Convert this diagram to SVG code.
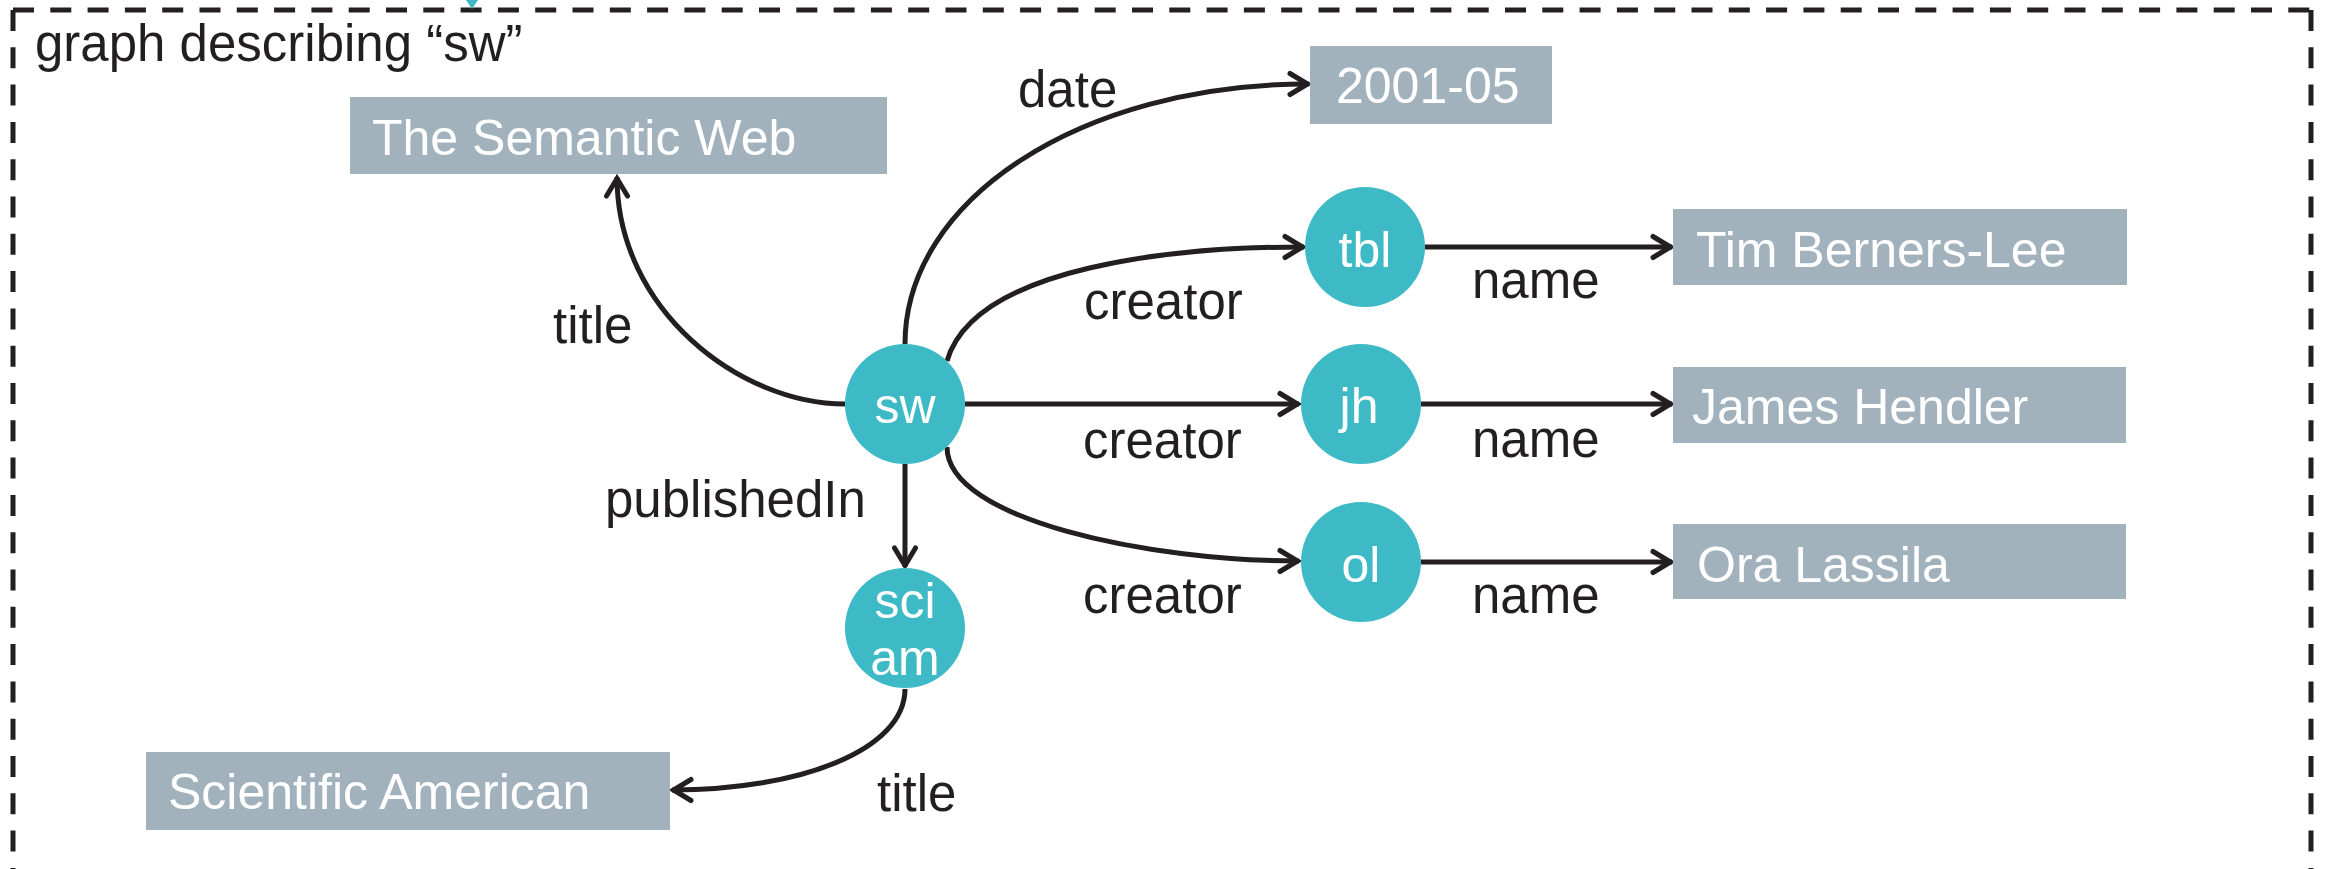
<svg xmlns="http://www.w3.org/2000/svg" width="2328" height="869" viewBox="0 0 2328 869">
<style>
.frame{fill:none;stroke:#231f20;stroke-width:5;stroke-dasharray:21 16.3}
.edge{fill:none;stroke:#231f20;stroke-width:5}
.node{fill:#3dbac6}
.lit{fill:#a1b2bd}
.lbl{font-family:"Liberation Sans",Arial,sans-serif;font-size:51px;fill:#231f20}
.ntx{font-family:"Liberation Sans",Arial,sans-serif;font-size:50px;fill:#ffffff;text-anchor:middle}
.btx{font-family:"Liberation Sans",Arial,sans-serif;font-size:50px;fill:#ffffff}
</style>
<defs>
<marker id="ah" markerUnits="userSpaceOnUse" markerWidth="30" markerHeight="30" viewBox="-25 -15 30 30" refX="0" refY="0" orient="auto">
<path d="M-19,-10.5 L-1.5,0 L-19,10.5" fill="none" stroke="#231f20" stroke-width="5" stroke-linecap="round"/>
</marker>
</defs>
<rect width="2328" height="869" fill="#ffffff"/>
<g id="frame">
<path class="frame" d="M13,10 L2311,10"/>
<path class="frame" d="M13,10 L13,869"/>
<path class="frame" d="M2311,10 L2311,869"/>
<polygon points="466,0 478,0 472,9" fill="#3dbac6"/>
<text class="lbl" x="35" y="61" font-size="54">graph describing “sw”</text>
</g>
<g id="connectors">
<path class="edge" marker-end="url(#ah)" d="M845,404 C740,404 617,310 617,177"/>
<path class="edge" marker-end="url(#ah)" d="M905,344 C905,200 1080,84 1309,84"/>
<path class="edge" marker-end="url(#ah)" d="M947,361 C975,265 1180,247 1304,247"/>
<path class="edge" marker-end="url(#ah)" d="M965,404 L1299,404"/>
<path class="edge" marker-end="url(#ah)" d="M947,447 C947,520 1150,561 1299,561"/>
<path class="edge" marker-end="url(#ah)" d="M905,464 L905,567"/>
<path class="edge" marker-end="url(#ah)" d="M905,689 C905,750 800,790 672,790"/>
<path class="edge" marker-end="url(#ah)" d="M1425,247 L1672,247"/>
<path class="edge" marker-end="url(#ah)" d="M1421,404 L1672,404"/>
<path class="edge" marker-end="url(#ah)" d="M1421,562 L1672,562"/>
<text class="lbl" x="553" y="343">title</text>
<text class="lbl" x="1018" y="107">date</text>
<text class="lbl" x="1084" y="319">creator</text>
<text class="lbl" x="1083" y="458">creator</text>
<text class="lbl" x="1083" y="613">creator</text>
<text class="lbl" x="605" y="517">publishedIn</text>
<text class="lbl" x="1472" y="298">name</text>
<text class="lbl" x="1472" y="457">name</text>
<text class="lbl" x="1472" y="613">name</text>
<text class="lbl" x="877" y="811">title</text>
</g>
<g id="n-semweb"><rect class="lit" x="350" y="97" width="537" height="77"/><text class="btx" x="372" y="155">The Semantic Web</text></g>
<g id="n-date"><rect class="lit" x="1310" y="46" width="242" height="78"/><text class="btx" x="1336" y="103">2001-05</text></g>
<g id="n-tblname"><rect class="lit" x="1673" y="209" width="454" height="76"/><text class="btx" x="1696" y="267">Tim Berners-Lee</text></g>
<g id="n-jhname"><rect class="lit" x="1673" y="367" width="453" height="76"/><text class="btx" x="1692" y="424">James Hendler</text></g>
<g id="n-olname"><rect class="lit" x="1673" y="524" width="453" height="75"/><text class="btx" x="1697" y="582">Ora Lassila</text></g>
<g id="n-sciname"><rect class="lit" x="146" y="752" width="524" height="78"/><text class="btx" x="168" y="809" font-size="52">Scientific American</text></g>
<g id="n-sw"><circle class="node" cx="905" cy="404" r="60"/><text class="ntx" x="905" y="423">sw</text></g>
<g id="n-tbl"><circle class="node" cx="1365" cy="247" r="60"/><text class="ntx" x="1365" y="267">tbl</text></g>
<g id="n-jh"><circle class="node" cx="1361" cy="404" r="60"/><text class="ntx" x="1359" y="423">jh</text></g>
<g id="n-ol"><circle class="node" cx="1361" cy="562" r="60"/><text class="ntx" x="1361" y="582">ol</text></g>
<g id="n-sciam"><circle class="node" cx="905" cy="628" r="60"/><text class="ntx" x="905" y="618">sci</text><text class="ntx" x="905" y="675">am</text></g>
</svg>
